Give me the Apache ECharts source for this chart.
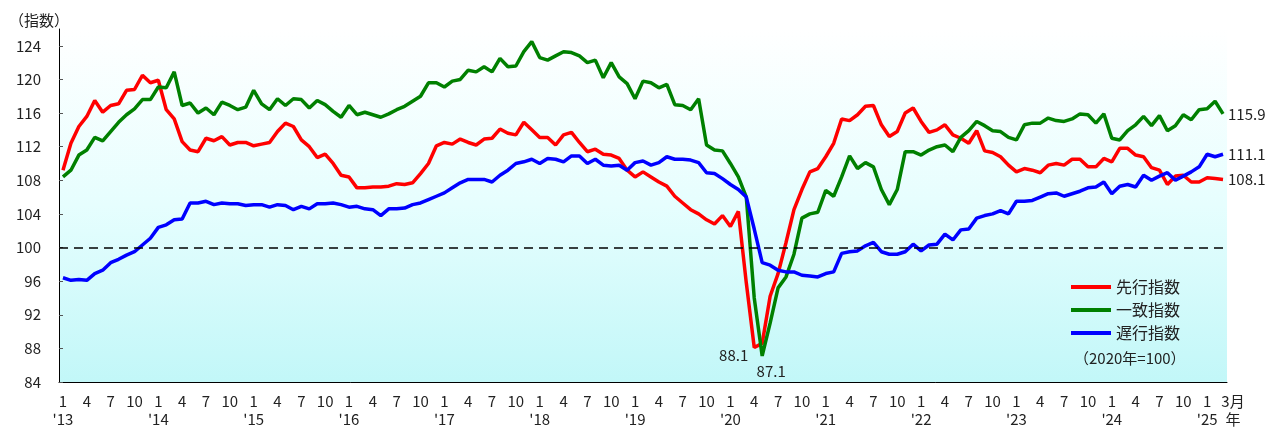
<!DOCTYPE html>
<html>
<head>
<meta charset="utf-8">
<script src="https://cdn.jsdelivr.net/npm/echarts@6/dist/echarts.min.js"></script>
<style>
  html, body { margin: 0; padding: 0; background: #fff; }
  #chart { width: 1279px; height: 429px; }
</style>
</head>
<body>
<div id="chart"></div>
<script>
// 景気動向指数 (CI, 2020年=100)  2013年1月 ～ 2025年3月
const startYear = 2013
const monthCount = 147

const leading = [ // 先行指数
  109.2, 112.4, 114.4, 115.6, 117.5, 116.1, 116.9, 117.1, 118.7, 118.8, 120.5, 119.6,
  119.9, 116.4, 115.3, 112.6, 111.6, 111.4, 113.0, 112.7, 113.2, 112.2, 112.5, 112.5,
  112.1, 112.3, 112.5, 113.8, 114.8, 114.4, 112.8, 112.0, 110.7, 111.1, 110.0, 108.6,
  108.4, 107.1, 107.1, 107.2, 107.2, 107.3, 107.6, 107.5, 107.7, 108.8, 110.0, 112.1,
  112.5, 112.3, 112.9, 112.5, 112.2, 112.9, 113.0, 114.1, 113.6, 113.4, 114.9, 114.0,
  113.1, 113.1, 112.2, 113.4, 113.7, 112.5, 111.4, 111.7, 111.1, 111.0, 110.6, 109.2,
  108.4, 109.0, 108.4, 107.8, 107.3, 106.1, 105.3, 104.5, 104.0, 103.3, 102.8, 103.8,
  102.5, 104.3, 95.8, 88.1, 88.6, 94.2, 96.9, 100.6, 104.5, 106.9, 109.0, 109.4,
  110.8, 112.4, 115.3, 115.1, 115.8, 116.8, 116.9, 114.6, 113.2, 113.8, 116.0, 116.6,
  115.0, 113.7, 114.0, 114.6, 113.4, 113.0, 112.4, 113.9, 111.5, 111.3, 110.8, 109.8,
  109.0, 109.4, 109.2, 108.9, 109.8, 110.0, 109.8, 110.5, 110.5, 109.6, 109.6, 110.6,
  110.2, 111.8, 111.8, 111.0, 110.8, 109.5, 109.2, 107.5, 108.5, 108.6, 107.8, 107.8,
  108.3, 108.2, 108.1
]
const coincident = [ // 一致指数
  108.4, 109.2, 111.0, 111.6, 113.1, 112.7, 113.8, 114.9, 115.8, 116.5, 117.6, 117.6,
  119.1, 119.0, 120.9, 116.9, 117.2, 116.0, 116.6, 115.8, 117.3, 116.9, 116.4, 116.7,
  118.7, 117.1, 116.4, 117.7, 116.9, 117.7, 117.6, 116.6, 117.5, 117.0, 116.2, 115.5,
  116.9, 115.8, 116.1, 115.8, 115.5, 115.9, 116.4, 116.8, 117.4, 118.0, 119.6, 119.6,
  119.1, 119.8, 120.0, 121.1, 120.9, 121.5, 120.9, 122.5, 121.5, 121.6, 123.3, 124.5,
  122.6, 122.3, 122.8, 123.3, 123.2, 122.8, 122.0, 122.3, 120.2, 122.0, 120.3, 119.5,
  117.7, 119.8, 119.6, 119.0, 119.4, 117.0, 116.9, 116.4, 117.7, 112.2, 111.6, 111.5,
  110.0, 108.4, 106.0, 94.0, 87.1, 91.0, 95.2, 96.5, 99.2, 103.5, 104.0, 104.2,
  106.8, 106.1, 108.4, 110.9, 109.4, 110.1, 109.6, 106.9, 105.1, 106.9, 111.4, 111.4,
  111.0, 111.6, 112.0, 112.2, 111.4, 113.1, 113.9, 115.0, 114.5, 113.9, 113.8, 113.1,
  112.8, 114.6, 114.8, 114.8, 115.4, 115.1, 115.0, 115.3, 115.9, 115.8, 114.8, 115.9,
  113.0, 112.8, 113.9, 114.6, 115.6, 114.5, 115.7, 113.9, 114.5, 115.8, 115.2, 116.4,
  116.5, 117.4, 115.9
]
const lagging = [ // 遅行指数
  96.4, 96.1, 96.2, 96.1, 96.9, 97.3, 98.2, 98.6, 99.1, 99.5, 100.3, 101.1,
  102.4, 102.7, 103.3, 103.4, 105.3, 105.3, 105.5, 105.1, 105.3, 105.2, 105.2, 105.0,
  105.1, 105.1, 104.8, 105.1, 105.0, 104.5, 104.9, 104.6, 105.2, 105.2, 105.3, 105.1,
  104.8, 104.9, 104.6, 104.5, 103.8, 104.6, 104.6, 104.7, 105.1, 105.3, 105.7, 106.1,
  106.5, 107.1, 107.7, 108.1, 108.1, 108.1, 107.8, 108.6, 109.2, 110.0, 110.2, 110.5,
  110.0, 110.6, 110.5, 110.2, 110.9, 110.9, 110.0, 110.5, 109.8, 109.7, 109.8, 109.2,
  110.1, 110.3, 109.8, 110.1, 110.8, 110.5, 110.5, 110.4, 110.1, 108.9, 108.8, 108.2,
  107.5, 106.9, 106.0, 102.2, 98.2, 97.9, 97.3, 97.1, 97.1, 96.7, 96.6, 96.5,
  96.9, 97.1, 99.3, 99.5, 99.6, 100.2, 100.6, 99.5, 99.2, 99.2, 99.5, 100.4,
  99.6, 100.3, 100.4, 101.6, 100.9, 102.1, 102.2, 103.5, 103.8, 104.0, 104.4, 104.0,
  105.5, 105.5, 105.6, 106.0, 106.4, 106.5, 106.1, 106.4, 106.7, 107.1, 107.2, 107.8,
  106.4, 107.3, 107.5, 107.2, 108.6, 108.0, 108.5, 108.9, 108.0, 108.5, 109.0, 109.6,
  111.1, 110.8, 111.1
]

const seriesNames = ['先行指数', '一致指数', '遅行指数']
const seriesColors = ['#ff0000', '#008000', '#0000ff']
const yMin = 84
const yMax = 126
const yInterval = 4
const baseLine = 100

// 月ラベル
const categories = []
for (let i = 0; i < monthCount; i++) {
  const y = startYear + Math.floor(i / 12)
  const m = (i % 12) + 1
  categories.push(y + '-' + m)
}

const font = '"Noto Sans CJK JP", "Noto Sans", sans-serif'

// 最小値の点にだけラベルを付ける
function withMinLabel(arr, labelOpt) {
  const minIdx = arr.indexOf(Math.min(...arr))
  return arr.map((v, i) => i === minIdx ? { value: v, label: labelOpt } : v)
}

const lineBase = {
  type: 'line',
  symbol: 'circle',
  symbolSize: 0,
  showSymbol: true,
  showAllSymbol: true,
  lineStyle: { width: 3.5 },
  emphasis: { disabled: true },
  endLabel: { show: true, formatter: '{c}', fontSize: 15, color: '#222', distance: 5, fontFamily: font }
}

const labelBase = { margin: 10, fontSize: 15, lineHeight: 18, color: '#222', fontFamily: font }

const chart = echarts.init(document.getElementById('chart'))

const option = {
  animation: false,
  textStyle: { fontFamily: font },
  title: {
    text: '（指数）',
    left: 4,
    top: 8,
    textStyle: { fontSize: 15, fontWeight: 'normal', color: '#222', fontFamily: font }
  },
  grid: {
    left: 59,
    right: 52,
    top: 29,
    bottom: 47,
    show: true,
    borderWidth: 0,
    backgroundColor: {
      type: 'linear', x: 0, y: 0, x2: 0, y2: 1,
      colorStops: [
        { offset: 0, color: '#ffffff' },
        { offset: 0.5, color: '#e6fefe' },
        { offset: 1, color: '#c2f7f8' }
      ]
    }
  },
  legend: {
    data: seriesNames,
    orient: 'vertical',
    left: 1066,
    top: 274,
    icon: 'rect',
    itemWidth: 40,
    itemHeight: 4,
    itemGap: 7,
    textStyle: { fontSize: 16, color: '#222', fontFamily: font }
  },
  graphic: [
    {
      type: 'text',
      left: 1074,
      top: 351,
      style: { text: '（2020年=100）', fontSize: 15, fill: '#222', fontFamily: font }
    }
  ],
  xAxis: [
    {
      type: 'category',
      data: categories,
      boundaryGap: true,
      axisLine: { lineStyle: { color: '#000', width: 1 } },
      axisTick: { inside: true, length: 4, interval: 2, lineStyle: { color: '#000' } },
      axisLabel: Object.assign({}, labelBase, {
        interval: 2,
        formatter: (value) => {
          const [y, m] = value.split('-')
          return m === '1' ? '1\n\'' + y.slice(2) : m
        }
      }),
      splitLine: { show: false }
    },
    {
      // 最終月「3月 / 年」だけを描く補助軸
      type: 'category',
      data: categories,
      position: 'bottom',
      boundaryGap: true,
      axisLine: { show: false },
      axisTick: { show: false },
      axisLabel: Object.assign({}, labelBase, {
        interval: (index) => index === monthCount - 1,
        showMaxLabel: true,
        formatter: (value) => '{e|' + value.split('-')[1] + '月}\n{e|年}',
        rich: {
          e: { fontSize: 15, lineHeight: 18, color: '#222', fontFamily: font, padding: [0, 0, 0, 20] }
        }
      }),
      splitLine: { show: false }
    }
  ],
  yAxis: {
    type: 'value',
    min: yMin,
    max: yMax,
    interval: yInterval,
    axisLine: { show: true, lineStyle: { color: '#000', width: 1 } },
    axisTick: { show: true, inside: true, length: 4, lineStyle: { color: '#555' } },
    axisLabel: { fontSize: 15, color: '#222', margin: 18, showMaxLabel: false, fontFamily: font },
    splitLine: { show: false }
  },
  series: [
    Object.assign({}, lineBase, {
      name: seriesNames[0],
      color: seriesColors[0],
      data: withMinLabel(leading, {
        show: true, position: 'left', distance: 4, offset: [-2, 8],
        formatter: '{c}', fontSize: 15, color: '#222', fontFamily: font
      }),
      markLine: {
        silent: true,
        symbol: 'none',
        label: { show: false },
        lineStyle: { color: '#000', type: [9, 6], width: 1.5 },
        data: [{ yAxis: baseLine }]
      }
    }),
    Object.assign({}, lineBase, {
      name: seriesNames[1],
      color: seriesColors[1],
      data: withMinLabel(coincident, {
        show: true, position: 'bottom', distance: 4, offset: [9, 4],
        formatter: '{c}', fontSize: 15, color: '#222', fontFamily: font
      })
    }),
    Object.assign({}, lineBase, {
      name: seriesNames[2],
      color: seriesColors[2],
      data: lagging
    })
  ]
}

chart.setOption(option)
</script>
</body>
</html>
